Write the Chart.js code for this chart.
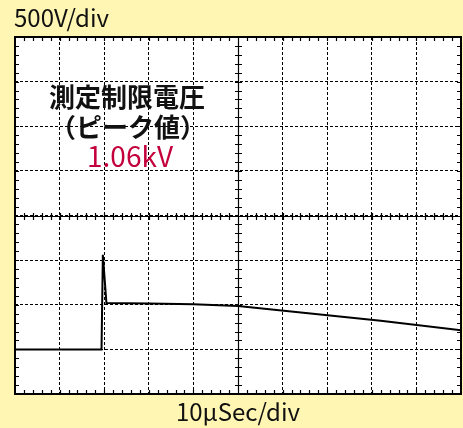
<!DOCTYPE html>
<html lang="ja">
<head>
<meta charset="utf-8">
<title>測定制限電圧</title>
<script src="https://cdn.jsdelivr.net/npm/chart.js@4.4.1/dist/chart.umd.min.js"></script>
<style>
  html, body { margin: 0; padding: 0; background: #fff6b4; }
  #wrap { width: 463px; height: 428px; }
</style>
</head>
<body>
<div id="wrap"><canvas id="scope" width="463" height="428"></canvas></div>
<script>
// 波形（横 10µs/div、縦 500V/div、0V = 下から1目盛）
const timeUs = [0, 19.4, 19.7, 20.5, 30, 40, 50, 82, 100];
const voltKv = [0, 0, 1.06, 0.52, 0.515, 0.505, 0.485, 0.32, 0.215];
const xTicks = [0, 10, 20, 30, 40, 50, 60, 70, 80, 90, 100];
const yTicks = [-0.5, 0, 0.5, 1, 1.5, 2, 2.5, 3, 3.5];
const xCenter = 50, yCenter = 1.5;
const labelLines = ['測定制限電圧', '（ピーク値）', '1.06kV'];
const yUnit = '500V/div', xUnit = '10μSec/div';

const FONT = '"Noto Sans CJK JP", "Noto Sans", sans-serif';

// 枠・中心線・細目盛・文字
const scopeFrame = {
  id: 'scopeFrame',
  beforeDraw(chart) {
    const { ctx, chartArea: a } = chart;
    ctx.save();
    ctx.fillStyle = '#fff';
    ctx.fillRect(a.left, a.top, a.right - a.left, a.bottom - a.top);
    ctx.restore();
  },
  beforeDatasetsDraw(chart) {
    const { ctx, chartArea: a, scales: { x, y } } = chart;
    const cx = Math.round(x.getPixelForValue(xCenter)) + 0.5;
    const cy = Math.round(y.getPixelForValue(yCenter)) + 0.5;
    ctx.save();
    ctx.strokeStyle = '#000';
    ctx.lineWidth = 1.2;
    ctx.beginPath();
    ctx.moveTo(a.left, cy); ctx.lineTo(a.right, cy);
    ctx.moveTo(cx, a.top); ctx.lineTo(cx, a.bottom);
    // 細目盛 1/5 div
    const xs = (xTicks[1] - xTicks[0]) / 5, ys = (yTicks[1] - yTicks[0]) / 5;
    for (let i = 1; i < (xTicks.length - 1) * 5; i++) {
      const px = Math.round(x.getPixelForValue(xTicks[0] + i * xs)) + 0.5;
      ctx.moveTo(px, a.top); ctx.lineTo(px, a.top + 4);
      ctx.moveTo(px, a.bottom); ctx.lineTo(px, a.bottom - 4);
      ctx.moveTo(px, cy - 3.5); ctx.lineTo(px, cy + 3.5);
    }
    for (let i = 1; i < (yTicks.length - 1) * 5; i++) {
      const py = Math.round(y.getPixelForValue(yTicks[0] + i * ys)) + 0.5;
      ctx.moveTo(a.left, py); ctx.lineTo(a.left + 4, py);
      ctx.moveTo(a.right, py); ctx.lineTo(a.right - 4, py);
      ctx.moveTo(cx - 3.5, py); ctx.lineTo(cx + 3.5, py);
    }
    ctx.stroke();
    ctx.lineWidth = 2;
    ctx.strokeRect(a.left, a.top, a.right - a.left, a.bottom - a.top);
    ctx.restore();
  },
  afterDraw(chart) {
    const { ctx, chartArea: a } = chart;
    ctx.save();
    ctx.fillStyle = '#111';
    ctx.font = `400 24px ${FONT}`;
    ctx.textBaseline = 'alphabetic';
    ctx.textAlign = 'left';
    ctx.fillText(yUnit, a.left - 1, 27);
    ctx.textAlign = 'center';
    ctx.fillText(xUnit, (a.left + a.right) / 2, 421);
    // 注記
    ctx.font = `700 26px ${FONT}`;
    ctx.textBaseline = 'middle';
    ctx.fillText(labelLines[0], 127, 97);
    ctx.fillText(labelLines[1], 128, 127);
    ctx.fillStyle = '#c4003c';
    ctx.font = `400 28px ${FONT}`;
    ctx.fillText(labelLines[2], 130, 156);
    ctx.restore();
  },
};

const gridScale = (min, max, ticks) => ({
  type: 'linear', min, max,
  afterBuildTicks: (s) => { s.ticks = ticks.map((v) => ({ value: v })); },
  ticks: { display: false },
  grid: { color: '#000', lineWidth: 1, drawTicks: false },
  border: { display: false, dash: [3, 2] },
});

new Chart(document.getElementById('scope'), {
  type: 'line',
  data: {
    datasets: [{
      data: timeUs.map((t, i) => ({ x: t, y: voltKv[i] })),
      borderColor: '#000', borderWidth: 2, pointRadius: 0, tension: 0, fill: false,
    }],
  },
  options: {
    responsive: false, animation: false, devicePixelRatio: 1,
    layout: { padding: { left: 15, top: 37, right: 2, bottom: 34 } },
    plugins: { legend: { display: false }, tooltip: { enabled: false } },
    scales: {
      x: gridScale(xTicks[0], xTicks[xTicks.length - 1], xTicks),
      y: gridScale(yTicks[0], yTicks[yTicks.length - 1], yTicks),
    },
  },
  plugins: [scopeFrame],
});
</script>
</body>
</html>
